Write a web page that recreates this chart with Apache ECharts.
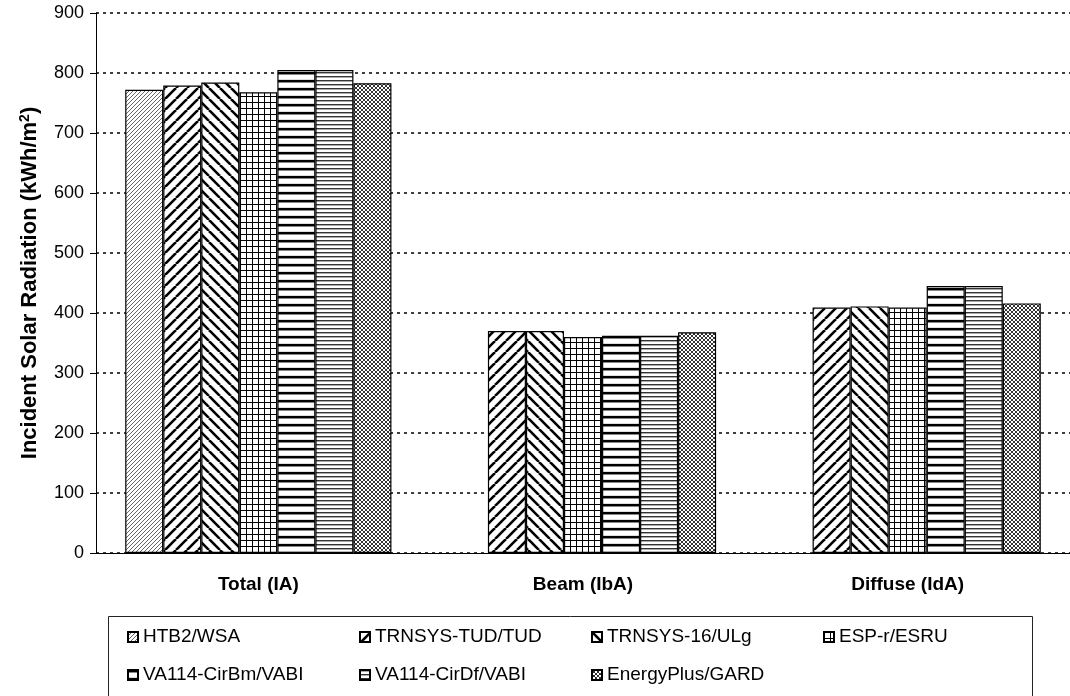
<!DOCTYPE html>
<html><head><meta charset="utf-8">
<script src="https://cdn.jsdelivr.net/npm/echarts@6/dist/echarts.min.js"></script>
<style>html,body{margin:0;padding:0;background:#fff;}#c{width:1070px;height:696px;}</style>
</head><body><div id="c"></div>
<script>
const categories = ['Total (IA)', 'Beam (IbA)', 'Diffuse (IdA)'];
const seriesNames = ['HTB2/WSA','TRNSYS-TUD/TUD','TRNSYS-16/ULg','ESP-r/ESRU','VA114-CirBm/VABI','VA114-CirDf/VABI','EnergyPlus/GARD'];
const htb2 = [772, null, null];
const trnsysTud = [779, 370, 409];
const trnsys16 = [784, 370, 411];
const espr = [768, 360, 409];
const cirBm = [805, 362, 445];
const cirDf = [805, 362, 445];
const energyPlus = [783, 368, 416];
const yTicks = [0, 100, 200, 300, 400, 500, 600, 700, 800, 900];

function tile(w, h, draw) {
  const c = document.createElement('canvas'); c.width = w; c.height = h;
  const g = c.getContext('2d'); g.fillStyle = '#fff'; g.fillRect(0, 0, w, h); draw(g, w, h);
  return { image: c, repeat: 'repeat' };
}
function diag(g, s, lw, col, dir) {
  g.strokeStyle = col; g.lineWidth = lw;
  for (let k = -1; k <= 1; k++) {
    g.beginPath();
    if (dir > 0) { g.moveTo(k * s, s); g.lineTo(k * s + s, 0); }
    else { g.moveTo(k * s, 0); g.lineTo(k * s + s, s); }
    g.stroke();
  }
}
const patterns = [
  tile(4, 4, (g) => diag(g, 4, 1, '#666', 1)),
  tile(11, 11, (g) => diag(g, 11, 2.6, '#000', 1)),
  tile(11, 11, (g) => diag(g, 11, 2.6, '#000', -1)),
  tile(6, 6, (g) => { g.fillStyle = '#000'; g.fillRect(0, 0, 6, 1); g.fillRect(0, 0, 1, 6); }),
  tile(4, 8, (g) => { g.fillStyle = '#000'; g.fillRect(0, 0, 4, 2); g.fillStyle = '#888'; g.fillRect(0, 2, 4, 1); g.fillStyle='#ddd'; g.fillRect(0, 7, 4, 1); }),
  tile(4, 4, (g) => { g.fillStyle = '#333'; g.fillRect(0, 0, 4, 1); g.fillStyle = '#aaa'; g.fillRect(0, 1, 4, 1); }),
  tile(4, 4, (g) => { diag(g, 4, 1, '#333', 1); diag(g, 4, 1, '#333', -1); })
];
const dataSets = [htb2, trnsysTud, trnsys16, espr, cirBm, cirDf, energyPlus];

const chart = echarts.init(document.getElementById('c'), null, { renderer: 'canvas' });
const font = 'Liberation Sans, Arial, sans-serif';
chart.setOption({
  animation: false,
  backgroundColor: '#fff',
  textStyle: { fontFamily: font },
  grid: { left: 96, top: 13, width: 981, height: 540, containLabel: false },
  graphic: [{ type: 'rect', left: 106, top: 614, shape: { width: 924, height: 81 }, style: { fill: 'none', stroke: '#222', lineWidth: 1 }, z: 1 }],
  legend: {
    left: 127, top: 618, width: 930, padding: 0, itemGap: 0,
    itemWidth: 10, itemHeight: 10, icon: 'rect',
    data: seriesNames,
    textStyle: { fontSize: 19, color: '#000', width: 216, lineHeight: 38, fontFamily: font }
  },
  xAxis: {
    type: 'category', data: categories,
    axisLine: { lineStyle: { color: '#000', width: 1 } },
    axisTick: { length: 6, lineStyle: { color: '#000' } },
    axisLabel: { color: '#000', fontWeight: 'bold', fontSize: 19, margin: 22, fontFamily: font }
  },
  yAxis: {
    type: 'value', min: 0, max: 900, interval: 100,
    name: 'Incident Solar Radiation (kWh/m{sup|2})',
    nameLocation: 'middle', nameGap: 54, nameRotate: 90,
    nameTextStyle: { color: '#000', fontWeight: 'bold', fontSize: 22, fontFamily: font,
      rich: { sup: { fontSize: 14, fontWeight: 'bold', verticalAlign: 'top', padding: [0,0,10,0], color: '#000' } } },
    axisLine: { show: true, lineStyle: { color: '#000', width: 1 } },
    axisTick: { show: true, length: 6, lineStyle: { color: '#000' } },
    axisLabel: { color: '#000', fontSize: 18, margin: 12, fontFamily: font, formatter: (v) => yTicks.includes(v) ? String(v) : '' },
    splitLine: { show: true, lineStyle: { color: '#000', width: 1.5, type: [3, 4] } }
  },
  series: seriesNames.map((n, i) => ({
    name: n, type: 'bar', data: dataSets[i],
    barGap: '0%', barCategoryGap: '18%',
    itemStyle: { color: patterns[i], borderColor: '#000', borderWidth: 1.2 }
  }))
});
</script></body></html>
